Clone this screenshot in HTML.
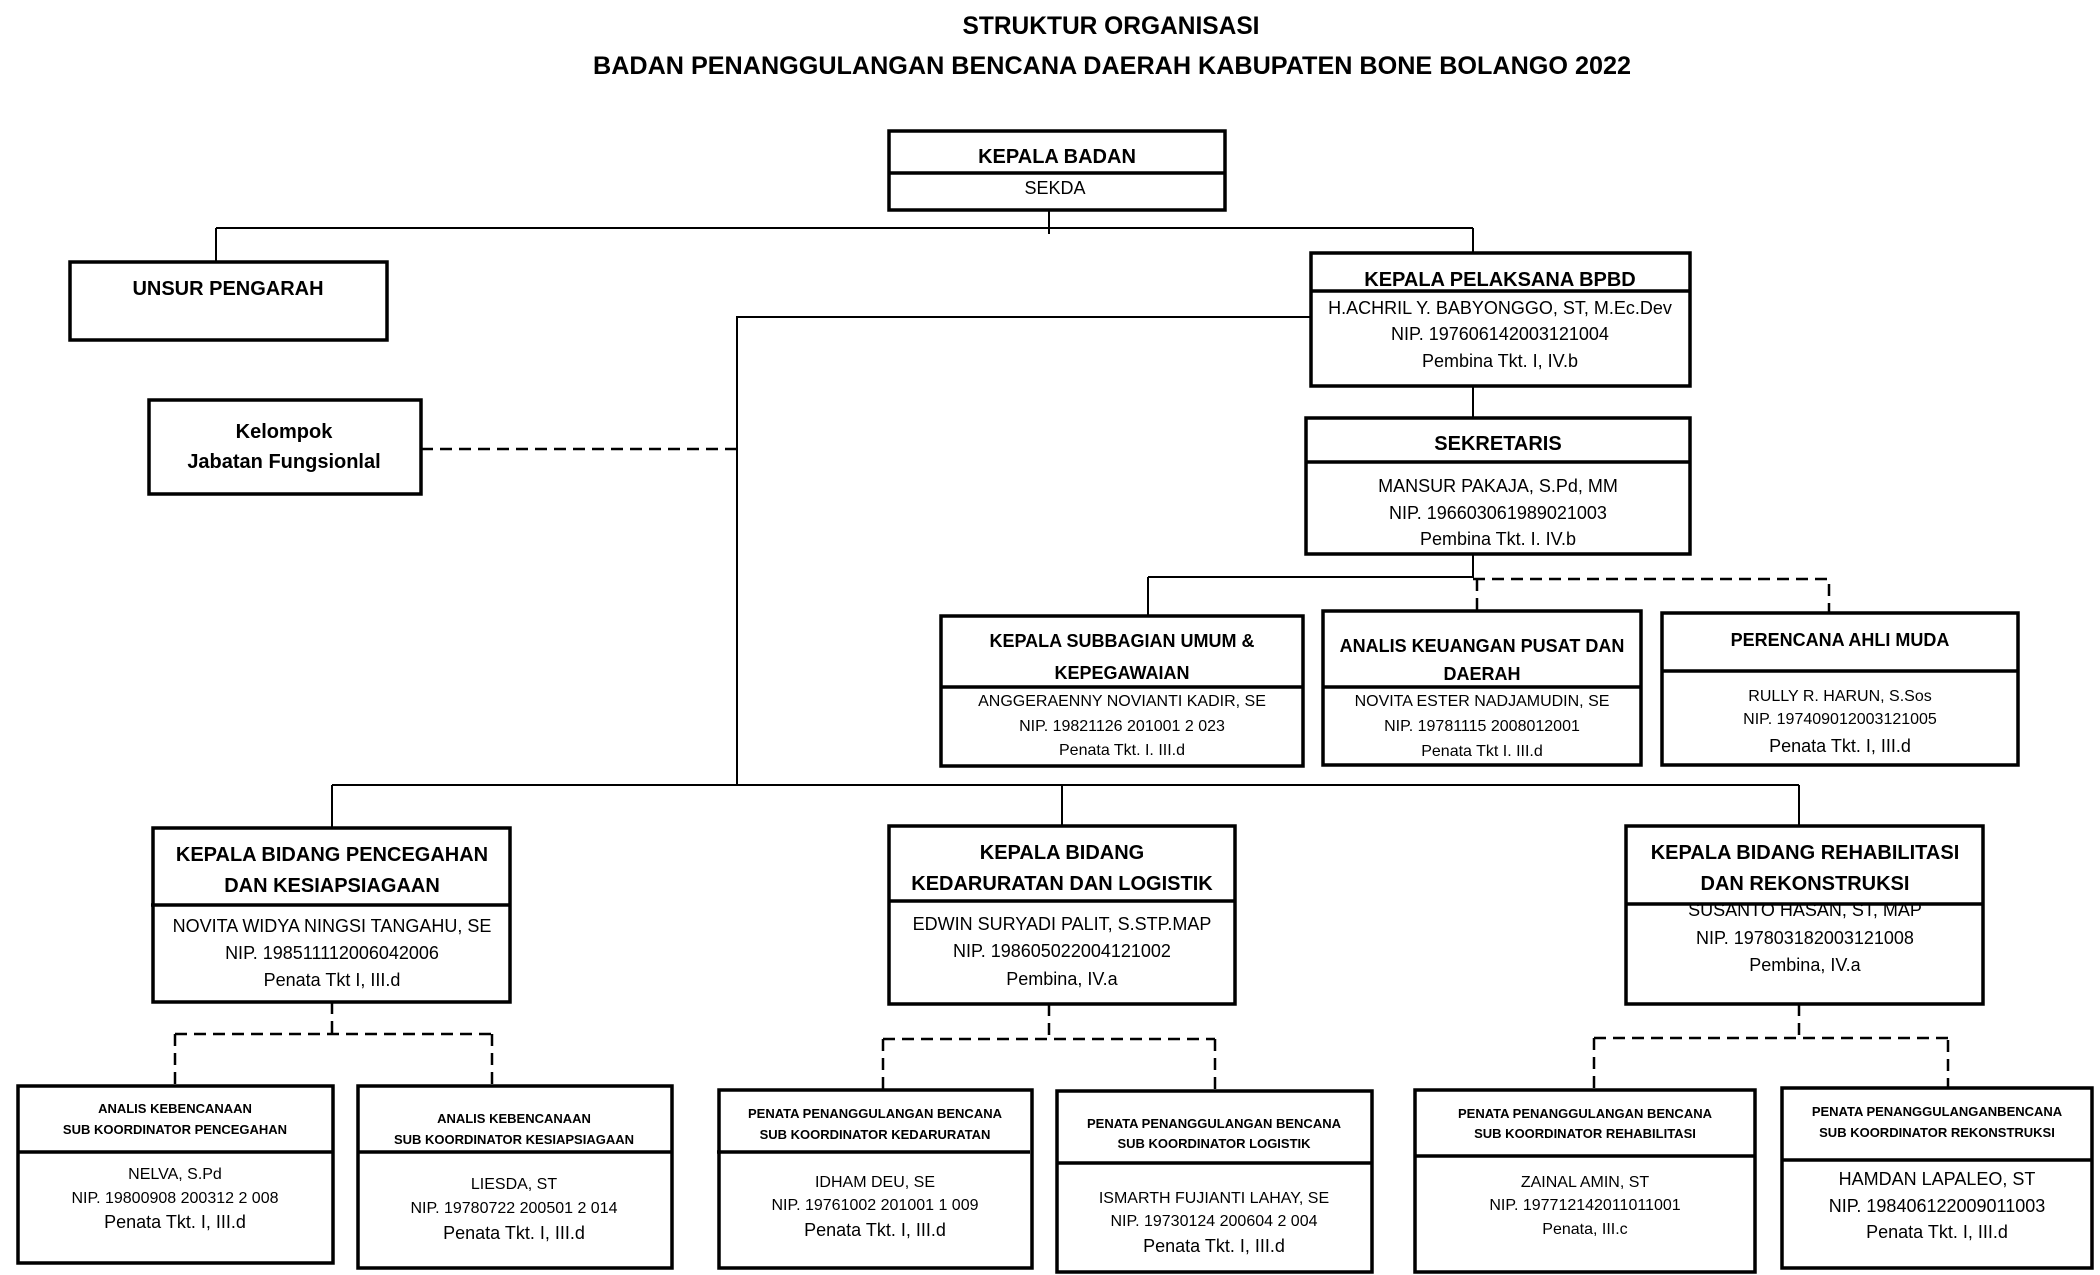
<!DOCTYPE html>
<html><head><meta charset="utf-8"><style>
html,body{margin:0;padding:0;background:#fff;}
svg{display:block;}
text{font-family:"Liberation Sans Narrow","Liberation Sans",sans-serif;fill:#000;text-anchor:middle;}
.b{font-weight:bold;}
.box{fill:#fff;stroke:#000;stroke-width:3.5;}
.dv{stroke:#000;stroke-width:3.5;}
.ln{stroke:#000;stroke-width:2;fill:none;}
.ds{stroke:#000;stroke-width:2.5;fill:none;stroke-dasharray:12 7;}
</style></head><body>
<svg width="2100" height="1275" viewBox="0 0 2100 1275" xmlns="http://www.w3.org/2000/svg">
<text class="b" x="1111" y="34" font-size="25" textLength="297" lengthAdjust="spacingAndGlyphs">STRUKTUR ORGANISASI</text>
<text class="b" x="1112" y="74" font-size="25" textLength="1038" lengthAdjust="spacingAndGlyphs">BADAN PENANGGULANGAN BENCANA DAERAH KABUPATEN BONE BOLANGO 2022</text>

<!-- connectors -->
<path class="ln" d="M1049 210 V234 M216 228 H1473 M216 228 V262 M1473 228 V253"/>
<path class="ln" d="M1311 317 H737 V786"/>
<path class="ds" d="M421 449 H737"/>
<path class="ln" d="M1473 386 V418 M1473 554 V578 M1148 577 H1473 M1148 577 V616"/>
<path class="ds" d="M1473 579 H1829 V613 M1477 579 V611"/>
<path class="ln" d="M332 785 H1799 M332 785 V828 M1062 785 V826 M1799 785 V826"/>
<path class="ds" d="M332 1002 V1034 M175 1034 H492 M175 1034 V1086 M492 1034 V1086"/>
<path class="ds" d="M1049 1004 V1039 M883 1039 H1215 M883 1039 V1090 M1215 1039 V1091"/>
<path class="ds" d="M1799 1004 V1040 M1594 1038 H1948 M1594 1038 V1090 M1948 1040 V1088"/>

<!-- KEPALA BADAN -->
<rect class="box" x="889" y="131" width="336" height="79"/>
<line class="dv" x1="889" y1="173" x2="1225" y2="173"/>
<text class="b" x="1057" y="163" font-size="20">KEPALA BADAN</text>
<text x="1055" y="194" font-size="18">SEKDA</text>

<!-- UNSUR -->
<rect class="box" x="70" y="262" width="317" height="78"/>
<text class="b" x="228" y="295" font-size="20">UNSUR PENGARAH</text>

<!-- Kelompok -->
<rect class="box" x="149" y="400" width="272" height="94"/>
<text class="b" x="284" y="438" font-size="20">Kelompok</text>
<text class="b" x="284" y="468" font-size="20">Jabatan Fungsionlal</text>

<!-- KPB -->
<rect class="box" x="1311" y="253" width="379" height="133"/>
<line class="dv" x1="1311" y1="291" x2="1690" y2="291"/>
<text class="b" x="1500" y="286" font-size="20">KEPALA PELAKSANA BPBD</text>
<text x="1500" y="314" font-size="18">H.ACHRIL Y. BABYONGGO, ST, M.Ec.Dev</text>
<text x="1500" y="340" font-size="18">NIP. 197606142003121004</text>
<text x="1500" y="367" font-size="18">Pembina Tkt. I, IV.b</text>

<!-- SEKRETARIS -->
<rect class="box" x="1306" y="418" width="384" height="136"/>
<line class="dv" x1="1306" y1="462" x2="1690" y2="462"/>
<text class="b" x="1498" y="450" font-size="20">SEKRETARIS</text>
<text x="1498" y="492" font-size="18">MANSUR PAKAJA, S.Pd, MM</text>
<text x="1498" y="519" font-size="18">NIP. 196603061989021003</text>
<text x="1498" y="545" font-size="18">Pembina Tkt. I. IV.b</text>

<!-- Box A -->
<rect class="box" x="941" y="616" width="362" height="150"/>
<text class="b" x="1122" y="647" font-size="18">KEPALA SUBBAGIAN UMUM &amp;</text>
<text class="b" x="1122" y="679" font-size="18">KEPEGAWAIAN</text>
<rect x="943" y="689" width="358" height="75" fill="#fff"/>
<line class="dv" x1="941" y1="687" x2="1303" y2="687"/>
<text x="1122" y="706" font-size="16">ANGGERAENNY NOVIANTI KADIR, SE</text>
<text x="1122" y="731" font-size="16">NIP. 19821126 201001 2 023</text>
<text x="1122" y="755" font-size="16">Penata Tkt. I. III.d</text>

<!-- Box B -->
<rect class="box" x="1323" y="611" width="318" height="154"/>
<text class="b" x="1482" y="652" font-size="18">ANALIS KEUANGAN PUSAT DAN</text>
<text class="b" x="1482" y="680" font-size="18">DAERAH</text>
<rect x="1325" y="689" width="314" height="74" fill="#fff"/>
<line class="dv" x1="1323" y1="687" x2="1641" y2="687"/>
<text x="1482" y="706" font-size="16">NOVITA ESTER NADJAMUDIN, SE</text>
<text x="1482" y="731" font-size="16">NIP. 19781115 2008012001</text>
<text x="1482" y="756" font-size="16">Penata Tkt I. III.d</text>

<!-- Box C -->
<rect class="box" x="1662" y="613" width="356" height="152"/>
<line class="dv" x1="1662" y1="671" x2="2018" y2="671"/>
<text class="b" x="1840" y="646" font-size="18">PERENCANA AHLI MUDA</text>
<text x="1840" y="701" font-size="16">RULLY R. HARUN, S.Sos</text>
<text x="1840" y="724" font-size="16">NIP. 197409012003121005</text>
<text x="1840" y="752" font-size="18">Penata Tkt. I, III.d</text>

<!-- D1 -->
<rect class="box" x="153" y="828" width="357" height="174"/>
<line class="dv" x1="151" y1="905" x2="510" y2="905"/>
<text class="b" x="332" y="861" font-size="20">KEPALA BIDANG PENCEGAHAN</text>
<text class="b" x="332" y="892" font-size="20">DAN KESIAPSIAGAAN</text>
<text x="332" y="932" font-size="18">NOVITA WIDYA NINGSI TANGAHU, SE</text>
<text x="332" y="959" font-size="18">NIP. 198511112006042006</text>
<text x="332" y="986" font-size="18">Penata Tkt I, III.d</text>

<!-- D2 -->
<rect class="box" x="889" y="826" width="346" height="178"/>
<line class="dv" x1="889" y1="901" x2="1235" y2="901"/>
<text class="b" x="1062" y="859" font-size="20">KEPALA BIDANG</text>
<text class="b" x="1062" y="890" font-size="20">KEDARURATAN DAN LOGISTIK</text>
<text x="1062" y="930" font-size="18">EDWIN SURYADI PALIT, S.STP.MAP</text>
<text x="1062" y="957" font-size="18">NIP. 198605022004121002</text>
<text x="1062" y="985" font-size="18">Pembina, IV.a</text>

<!-- D3 -->
<rect class="box" x="1626" y="826" width="357" height="178"/>
<line class="dv" x1="1626" y1="904" x2="1983" y2="904"/>
<text class="b" x="1805" y="859" font-size="20">KEPALA BIDANG REHABILITASI</text>
<text class="b" x="1805" y="890" font-size="20">DAN REKONSTRUKSI</text>
<text x="1805" y="916" font-size="18">SUSANTO HASAN, ST, MAP</text>
<text x="1805" y="944" font-size="18">NIP. 197803182003121008</text>
<text x="1805" y="971" font-size="18">Pembina, IV.a</text>

<!-- E1 -->
<rect class="box" x="18" y="1086" width="315" height="177"/>
<line class="dv" x1="18" y1="1152" x2="333" y2="1152"/>
<text class="b" x="175" y="1113" font-size="13">ANALIS KEBENCANAAN</text>
<text class="b" x="175" y="1134" font-size="13">SUB KOORDINATOR PENCEGAHAN</text>
<text x="175" y="1179" font-size="16">NELVA, S.Pd</text>
<text x="175" y="1203" font-size="16">NIP. 19800908 200312 2 008</text>
<text x="175" y="1228" font-size="18">Penata Tkt. I, III.d</text>

<!-- E2 -->
<rect class="box" x="358" y="1086" width="314" height="182"/>
<line class="dv" x1="358" y1="1152" x2="672" y2="1152"/>
<text class="b" x="514" y="1123" font-size="13">ANALIS KEBENCANAAN</text>
<text class="b" x="514" y="1144" font-size="13">SUB KOORDINATOR KESIAPSIAGAAN</text>
<text x="514" y="1189" font-size="16">LIESDA, ST</text>
<text x="514" y="1213" font-size="16">NIP. 19780722 200501 2 014</text>
<text x="514" y="1239" font-size="18">Penata Tkt. I, III.d</text>

<!-- E3 -->
<rect class="box" x="719" y="1090" width="313" height="178"/>
<line class="dv" x1="717" y1="1152" x2="1030" y2="1152"/>
<text class="b" x="875" y="1118" font-size="13">PENATA PENANGGULANGAN BENCANA</text>
<text class="b" x="875" y="1139" font-size="13">SUB KOORDINATOR KEDARURATAN</text>
<text x="875" y="1187" font-size="16">IDHAM DEU, SE</text>
<text x="875" y="1210" font-size="16">NIP. 19761002 201001 1 009</text>
<text x="875" y="1236" font-size="18">Penata Tkt. I, III.d</text>

<!-- E4 -->
<rect class="box" x="1057" y="1091" width="315" height="181"/>
<line class="dv" x1="1057" y1="1163" x2="1372" y2="1163"/>
<text class="b" x="1214" y="1128" font-size="13">PENATA PENANGGULANGAN BENCANA</text>
<text class="b" x="1214" y="1148" font-size="13">SUB KOORDINATOR LOGISTIK</text>
<text x="1214" y="1203" font-size="16">ISMARTH FUJIANTI LAHAY, SE</text>
<text x="1214" y="1226" font-size="16">NIP. 19730124 200604 2 004</text>
<text x="1214" y="1252" font-size="18">Penata Tkt. I, III.d</text>

<!-- E5 -->
<rect class="box" x="1415" y="1090" width="340" height="182"/>
<line class="dv" x1="1415" y1="1156" x2="1755" y2="1156"/>
<text class="b" x="1585" y="1118" font-size="13">PENATA PENANGGULANGAN BENCANA</text>
<text class="b" x="1585" y="1138" font-size="13">SUB KOORDINATOR REHABILITASI</text>
<text x="1585" y="1187" font-size="16">ZAINAL AMIN, ST</text>
<text x="1585" y="1210" font-size="16">NIP. 197712142011011001</text>
<text x="1585" y="1234" font-size="16">Penata, III.c</text>

<!-- E6 -->
<rect class="box" x="1782" y="1088" width="310" height="180"/>
<line class="dv" x1="1782" y1="1160" x2="2092" y2="1160"/>
<text class="b" x="1937" y="1116" font-size="13">PENATA PENANGGULANGANBENCANA</text>
<text class="b" x="1937" y="1137" font-size="13">SUB KOORDINATOR REKONSTRUKSI</text>
<text x="1937" y="1185" font-size="18">HAMDAN LAPALEO, ST</text>
<text x="1937" y="1212" font-size="18">NIP. 198406122009011003</text>
<text x="1937" y="1238" font-size="18">Penata Tkt. I, III.d</text>
</svg>
</body></html>
